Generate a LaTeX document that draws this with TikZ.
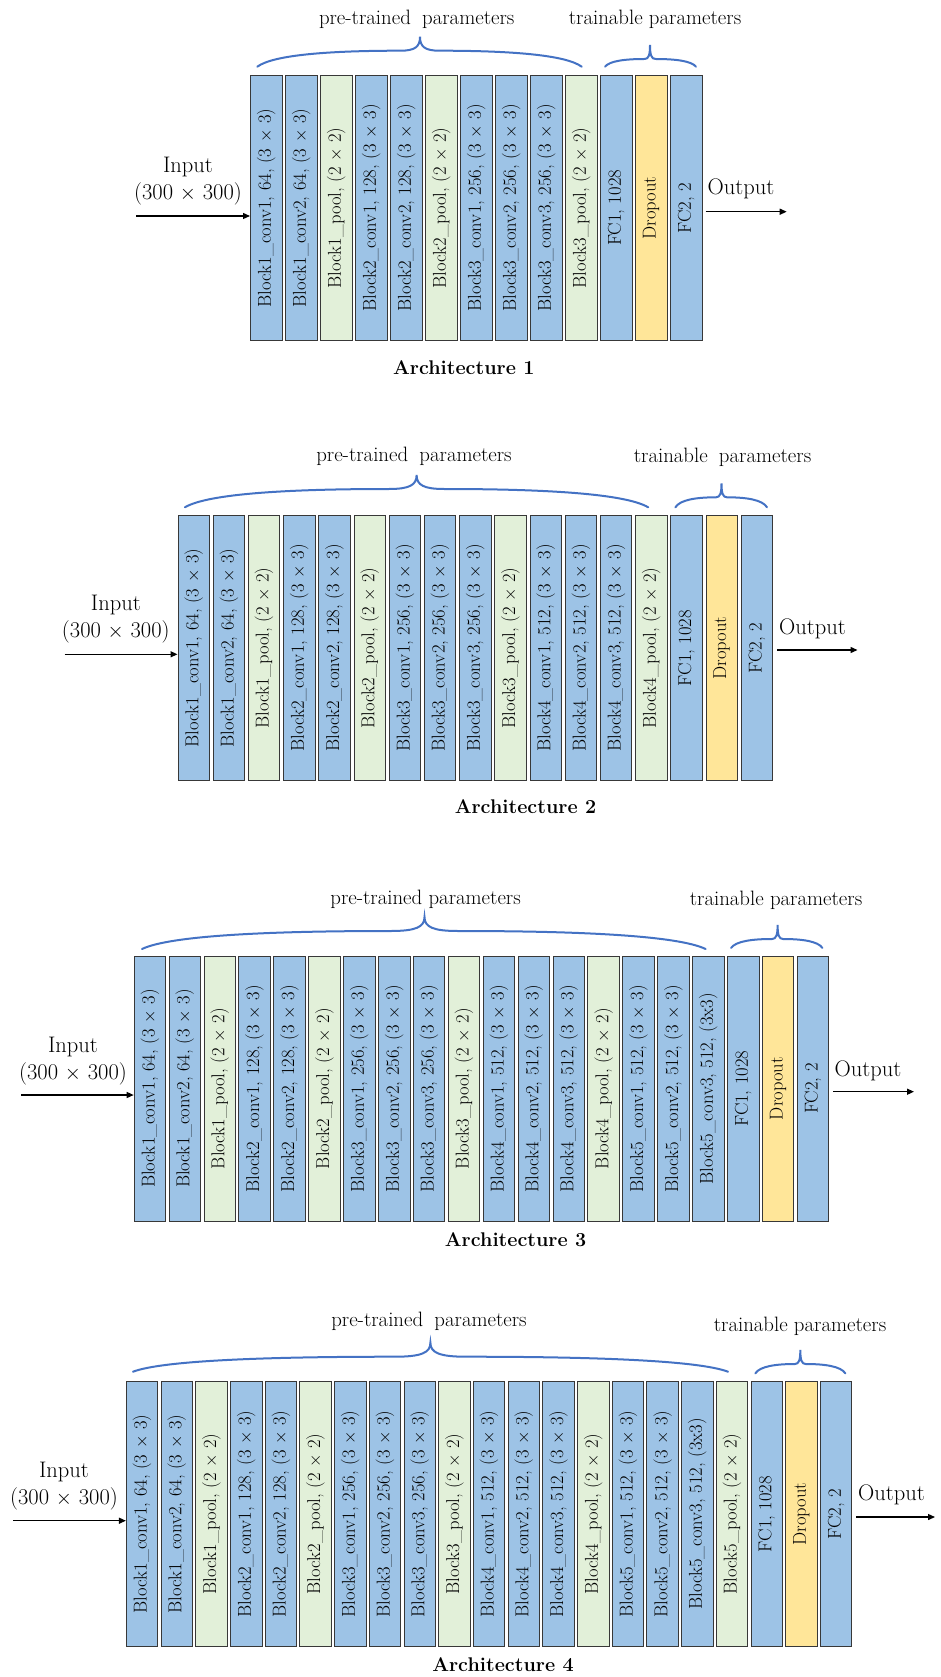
\documentclass[tikz,border=0pt]{standalone}
\usetikzlibrary{arrows.meta}
\definecolor{blueF}{HTML}{9DC3E6}
\definecolor{greenF}{HTML}{E2F0D9}
\definecolor{yellowF}{HTML}{FFE699}
\definecolor{braceC}{HTML}{4472C4}
\newcommand{\lblfont}{\fontsize{18.6}{21}\selectfont}
\newcommand{\iofont}{\fontsize{22.5}{25}\selectfont}
\newcommand{\pfont}{\fontsize{20.8}{24}\selectfont}
\newcommand{\tfont}{\fontsize{19.8}{23}\selectfont\bfseries}
\newcommand{\archboxes}[5]{%
  \foreach \lab/\sty [count=\i] in {#5} {%
    \node[\sty] (#1\i) at ({#2+(\i-1)*#3},#4) {\rotatebox{90}{\lab}};
  }}
\newcommand{\archbrace}[5]{%
  \draw[bracesty] (#1,#4)
    .. controls ({#1+0.1*(#3-#1)},{#4-0.75*(#4-#5-14)}) and ({#1+0.45*(#3-#1)},{#5+14}) .. ({#3-0.12*(#3-#1)},{#5+14})
    .. controls ({#3-0.03*(#3-#1)},{#5+14}) and (#3,{#5+10}) .. (#3,#5)
    .. controls (#3,{#5+10}) and ({#3+0.03*(#2-#3)},{#5+14}) .. ({#3+0.12*(#2-#3)},{#5+14})
    .. controls ({#3+0.55*(#2-#3)},{#5+14}) and ({#2-0.1*(#2-#3)},{#4-0.75*(#4-#5-14)}) .. (#2,#4);}
\tikzset{
  lay/.style={draw=black!78, line width=0.9pt, minimum width=31.5pt, minimum height=265pt,
    inner sep=0pt, anchor=north west, font=\lblfont},
  bl/.style={lay, fill=blueF},
  gr/.style={lay, fill=greenF},
  yl/.style={lay, fill=yellowF},
  bracesty/.style={draw=braceC, line width=2pt, line cap=round},
  arr/.style={draw=black, line width=1.3pt, -{Triangle[length=7pt,width=6pt]}},
  iotxt/.style={font=\iofont, inner sep=0pt, anchor=base},
  ptxt/.style={font=\pfont, inner sep=0pt, anchor=base},
  ttl/.style={font=\tfont, inner sep=0pt, anchor=base},
}
\begin{document}
\begin{tikzpicture}[x=1pt,y=-1pt]
\useasboundingbox (0,0) rectangle (940,1677);
\fill[white] (0,0) rectangle (940,1677);

% ---------------- Architecture 1 ----------------
\archboxes{a1b}{250}{35}{75}{%
 {Block1\_conv1, 64, (3 $\times$ 3)}/bl,
 {Block1\_conv2, 64, (3 $\times$ 3)}/bl,
 {Block1\_pool, (2 $\times$ 2)}/gr,
 {Block2\_conv1, 128, (3 $\times$ 3)}/bl,
 {Block2\_conv2, 128, (3 $\times$ 3)}/bl,
 {Block2\_pool, (2 $\times$ 2)}/gr,
 {Block3\_conv1, 256, (3 $\times$ 3)}/bl,
 {Block3\_conv2, 256, (3 $\times$ 3)}/bl,
 {Block3\_conv3, 256, (3 $\times$ 3)}/bl,
 {Block3\_pool, (2 $\times$ 2)}/gr,
 {FC1, 1028}/bl,
 {Dropout}/yl,
 {FC2, 2}/bl}
\node[ptxt] (p1) at (416.7,25) {pre-trained\hspace{5pt} parameters};
\node[ptxt] (tr1) at (655,25) {trainable parameters};
\archbrace{257.3}{581.7}{420}{66.7}{36.7}
\archbrace{605}{696}{650}{66.7}{45}
\node[iotxt] (in1) at (188,172.5) {Input};
\node[iotxt] (sz1) at (188,199.5) {(300 $\times$ 300)};
\coordinate (in1a) at (136,216);
\draw[arr] (in1a) -- (in1a -| a1b1.west);
\node[iotxt] (o1) at (741,195) {Output};
\coordinate (out1a) at (705.7,211.7);
\coordinate (out1b) at (786.7,211.7);
\draw[arr] (out1a) -- (out1b);
\node[ttl] (t1) at (463.8,374) {Architecture 1};

% ---------------- Architecture 2 ----------------
\archboxes{a2b}{177.5}{35.2}{515}{%
 {Block1\_conv1, 64, (3 $\times$ 3)}/bl,
 {Block1\_conv2, 64, (3 $\times$ 3)}/bl,
 {Block1\_pool, (2 $\times$ 2)}/gr,
 {Block2\_conv1, 128, (3 $\times$ 3)}/bl,
 {Block2\_conv2, 128, (3 $\times$ 3)}/bl,
 {Block2\_pool, (2 $\times$ 2)}/gr,
 {Block3\_conv1, 256, (3 $\times$ 3)}/bl,
 {Block3\_conv2, 256, (3 $\times$ 3)}/bl,
 {Block3\_conv3, 256, (3 $\times$ 3)}/bl,
 {Block3\_pool, (2 $\times$ 2)}/gr,
 {Block4\_conv1, 512, (3 $\times$ 3)}/bl,
 {Block4\_conv2, 512, (3 $\times$ 3)}/bl,
 {Block4\_conv3, 512, (3 $\times$ 3)}/bl,
 {Block4\_pool, (2 $\times$ 2)}/gr,
 {FC1, 1028}/bl,
 {Dropout}/yl,
 {FC2, 2}/bl}
\node[ptxt] (p2) at (414,461) {pre-trained\hspace{5pt} parameters};
\node[ptxt] (tr2) at (722.5,462) {trainable\hspace{5pt} parameters};
\archbrace{184.9}{648.2}{416.6}{507.3}{475}
\archbrace{675.4}{767}{721.5}{507.3}{483.3}
\node[iotxt] (in2) at (115.8,610) {Input};
\node[iotxt] (sz2) at (115.8,637.5) {(300 $\times$ 300)};
\coordinate (in2a) at (64.6,654.3);
\draw[arr] (in2a) -- (in2a -| a2b1.west);
\node[iotxt] (o2) at (812.5,634) {Output};
\coordinate (out2a) at (777.4,650);
\coordinate (out2b) at (857.5,650);
\draw[arr] (out2a) -- (out2b);
\node[ttl] (t2) at (525.5,813) {Architecture 2};

% ---------------- Architecture 3 ----------------
\archboxes{a3b}{133.7}{34.9}{955.7}{%
 {Block1\_conv1, 64, (3 $\times$ 3)}/bl,
 {Block1\_conv2, 64, (3 $\times$ 3)}/bl,
 {Block1\_pool, (2 $\times$ 2)}/gr,
 {Block2\_conv1, 128, (3 $\times$ 3)}/bl,
 {Block2\_conv2, 128, (3 $\times$ 3)}/bl,
 {Block2\_pool, (2 $\times$ 2)}/gr,
 {Block3\_conv1, 256, (3 $\times$ 3)}/bl,
 {Block3\_conv2, 256, (3 $\times$ 3)}/bl,
 {Block3\_conv3, 256, (3 $\times$ 3)}/bl,
 {Block3\_pool, (2 $\times$ 2)}/gr,
 {Block4\_conv1, 512, (3 $\times$ 3)}/bl,
 {Block4\_conv2, 512, (3 $\times$ 3)}/bl,
 {Block4\_conv3, 512, (3 $\times$ 3)}/bl,
 {Block4\_pool, (2 $\times$ 2)}/gr,
 {Block5\_conv1, 512, (3 $\times$ 3)}/bl,
 {Block5\_conv2, 512, (3 $\times$ 3)}/bl,
 {Block5\_conv3, 512, (3x3)}/bl,
 {FC1, 1028}/bl,
 {Dropout}/yl,
 {FC2, 2}/bl}
\node[ptxt] (p3) at (425.6,904) {pre-trained parameters};
\node[ptxt] (tr3) at (776,905.7) {trainable parameters};
\archbrace{142}{705.6}{424.5}{949}{917}
\archbrace{731}{822.5}{777.6}{948}{925}
\node[iotxt] (in3) at (73,1052.5) {Input};
\node[iotxt] (sz3) at (73,1079) {(300 $\times$ 300)};
\coordinate (in3a) at (21,1095);
\draw[arr] (in3a) -- (in3a -| a3b1.west);
\node[iotxt] (o3) at (868,1076.7) {Output};
\coordinate (out3a) at (833,1091.7);
\coordinate (out3b) at (914,1091.7);
\draw[arr] (out3a) -- (out3b);
\node[ttl] (t3) at (515.6,1246) {Architecture 3};

% ---------------- Architecture 4 ----------------
\archboxes{a4b}{125.9}{34.7}{1381}{%
 {Block1\_conv1, 64, (3 $\times$ 3)}/bl,
 {Block1\_conv2, 64, (3 $\times$ 3)}/bl,
 {Block1\_pool, (2 $\times$ 2)}/gr,
 {Block2\_conv1, 128, (3 $\times$ 3)}/bl,
 {Block2\_conv2, 128, (3 $\times$ 3)}/bl,
 {Block2\_pool, (2 $\times$ 2)}/gr,
 {Block3\_conv1, 256, (3 $\times$ 3)}/bl,
 {Block3\_conv2, 256, (3 $\times$ 3)}/bl,
 {Block3\_conv3, 256, (3 $\times$ 3)}/bl,
 {Block3\_pool, (2 $\times$ 2)}/gr,
 {Block4\_conv1, 512, (3 $\times$ 3)}/bl,
 {Block4\_conv2, 512, (3 $\times$ 3)}/bl,
 {Block4\_conv3, 512, (3 $\times$ 3)}/bl,
 {Block4\_pool, (2 $\times$ 2)}/gr,
 {Block5\_conv1, 512, (3 $\times$ 3)}/bl,
 {Block5\_conv2, 512, (3 $\times$ 3)}/bl,
 {Block5\_conv3, 512, (3x3)}/bl,
 {Block5\_pool, (2 $\times$ 2)}/gr,
 {FC1, 1028}/bl,
 {Dropout}/yl,
 {FC2, 2}/bl}
\node[ptxt] (p4) at (429,1326.7) {pre-trained\hspace{5pt} parameters};
\node[ptxt] (tr4) at (800,1331.7) {trainable parameters};
\archbrace{133}{728}{430.4}{1371.7}{1342.7}
\archbrace{755.4}{845.3}{800.3}{1373.3}{1350}
\node[iotxt] (in4) at (64,1477.5) {Input};
\node[iotxt] (sz4) at (64,1504) {(300 $\times$ 300)};
\coordinate (in4a) at (13,1520.7);
\draw[arr] (in4a) -- (in4a -| a4b1.west);
\node[iotxt] (o4) at (891.5,1500) {Output};
\coordinate (out4a) at (856,1517);
\coordinate (out4b) at (935,1517);
\draw[arr] (out4a) -- (out4b);
\node[ttl] (t4) at (503,1671.5) {Architecture 4};
\end{tikzpicture}
\end{document}
